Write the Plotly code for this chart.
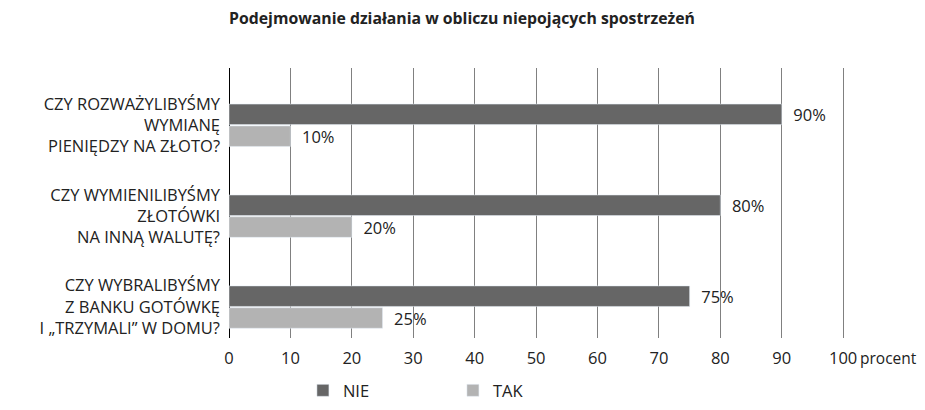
import plotly.graph_objects as go

questions = [
    'CZY ROZWAŻYLIBYŚMY<br>WYMIANĘ<br>PIENIĘDZY NA ZŁOTO?',
    'CZY WYMIENILIBYŚMY<br>ZŁOTÓWKI<br>NA INNĄ WALUTĘ?',
    'CZY WYBRALIBYŚMY<br>Z BANKU GOTÓWKĘ<br>I „TRZYMALI” W DOMU?',
]
nie = [90, 80, 75]
tak = [10, 20, 25]
tick_vals = [0, 10, 20, 30, 40, 50, 60, 70, 80, 90, 100]
tick_text = ['0', '10', '20', '30', '40', '50', '60', '70', '80', '90', '100']
unit = 'procent'

font = 'Open Sans, sans-serif'
fs = 16.5

fig = go.Figure()
fig.add_trace(go.Bar(
    y=questions, x=nie, name='NIE', orientation='h',
    marker_color='#666666',
    text=[f'\u00a0\u00a0{v}%' for v in nie], textposition='outside',
    constraintext='none',
    textfont=dict(size=fs, color='#222'), cliponaxis=False))
fig.add_trace(go.Bar(
    y=questions, x=tak, name='TAK', orientation='h',
    marker_color='#b3b3b3',
    text=[f'\u00a0\u00a0{v}%' for v in tak], textposition='outside',
    constraintext='none',
    textfont=dict(size=fs, color='#222'), cliponaxis=False))

fig.add_annotation(text=unit, x=100, y=0, xref='x', yref='paper',
                   xshift=15, yshift=-20, xanchor='left', yanchor='middle',
                   showarrow=False, font=dict(size=15.5, color='#222'))

# the page body adds an 8px margin all round, so the figure is kept 16px smaller
fig.update_layout(
    width=909, height=394,
    margin=dict(l=221, r=72, t=60, b=64, autoexpand=False),
    plot_bgcolor='white', paper_bgcolor='white',
    font=dict(family=font, size=fs, color='#222'),
    title=dict(text='<b>Podejmowanie działania w obliczu niepojących spostrzeżeń</b>',
               x=454 / 909, xanchor='center', y=1 - 10 / 394, yanchor='middle',
               font=dict(size=15.8, color='#222')),
    barmode='group', bargap=0.52, bargroupgap=0.06,
    legend=dict(orientation='h', x=0.12, xanchor='left', y=-0.13, yanchor='top',
                entrywidth=105, font=dict(size=fs), traceorder='normal'),
    showlegend=True,
)
fig.update_xaxes(range=[0, 100.3], tickvals=tick_vals, ticktext=tick_text,
                 showgrid=True, gridcolor='#808080', gridwidth=1,
                 zeroline=True, zerolinecolor='#000', zerolinewidth=1,
                 ticks='', ticklabelstandoff=8, fixedrange=True, automargin=False)
fig.update_yaxes(autorange=False, range=[2.34, -0.63], ticks='',
                 showline=False, ticklabelstandoff=8, fixedrange=True, automargin=False)

fig.write_html('out.html')
